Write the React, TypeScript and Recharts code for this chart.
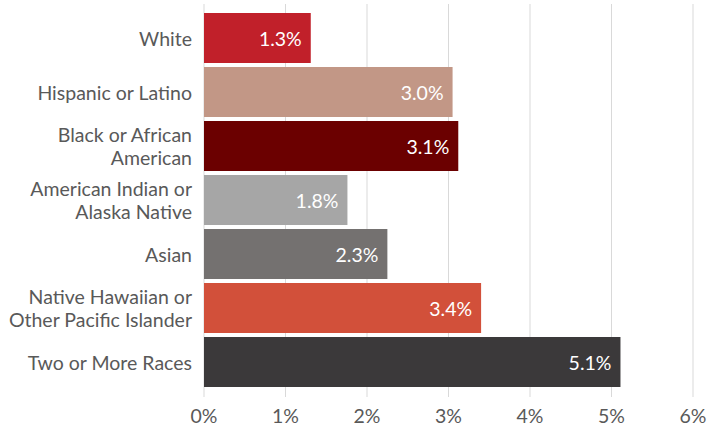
import React from "react";
import { BarChart, Bar, XAxis, YAxis, CartesianGrid, Cell, LabelList } from "recharts";

const categories = [
  "White",
  "Hispanic or Latino",
  "Black or African\nAmerican",
  "American Indian or\nAlaska Native",
  "Asian",
  "Native Hawaiian or\nOther Pacific Islander",
  "Two or More Races",
];
const values = [1.31, 3.05, 3.12, 1.76, 2.25, 3.4, 5.11];
const valueLabels = ["1.3%", "3.0%", "3.1%", "1.8%", "2.3%", "3.4%", "5.1%"];
const colors = ["#C1202A", "#C29786", "#6B0000", "#A6A6A6", "#747170", "#D2503A", "#3B393A"];
const xTicks = [0, 1, 2, 3, 4, 5, 6];

const data = categories.map((name, i) => ({ name, value: values[i], label: valueLabels[i] }));

const FONT = "Lato, 'Noto Sans', sans-serif";
const TEXT = "#595959";
const FS = 19.5;

const YTick = (props: any) => {
  const { x, y, payload } = props;
  const lines = String(payload.value).split("\n");
  const lh = 23;
  const start = -((lines.length - 1) * lh) / 2;
  return (
    <g>
      {lines.map((l: string, i: number) => (
        <text
          key={i}
          x={x}
          y={y + start + i * lh}
          textAnchor="end"
          dominantBaseline="central"
          fill={TEXT}
          fontSize={FS}
          fontFamily={FONT}
        >
          {l}
        </text>
      ))}
    </g>
  );
};

const XTick = (props: any) => {
  const { x, y, payload } = props;
  return (
    <text x={x} y={y + 10} textAnchor="middle" dominantBaseline="central" fill={TEXT} fontSize={FS} fontFamily={FONT}>
      {payload.value}%
    </text>
  );
};

const ValueLabel = (props: any) => {
  const { x, y, width, height, value } = props;
  return (
    <text
      x={x + width - 9}
      y={y + height / 2}
      textAnchor="end"
      dominantBaseline="central"
      fill="#ffffff"
      fontSize={FS}
      fontFamily={FONT}
    >
      {value}
    </text>
  );
};

export default function App() {
  return (
    <div style={{ position: "absolute", left: 0, top: 0 }}>
      <BarChart
        width={708}
        height={429}
        data={data}
        layout="vertical"
        margin={{ top: 4, right: 15, bottom: 0, left: 0 }}
        barCategoryGap={2}
      >
        <CartesianGrid horizontal={false} stroke="#d9d9d9" strokeWidth={1} />
        <XAxis
          type="number"
          domain={[0, 6]}
          ticks={xTicks}
          axisLine={false}
          tickLine={false}
          height={32}
          tick={<XTick />}
          interval={0}
        />
        <YAxis
          type="category"
          dataKey="name"
          width={204}
          axisLine={false}
          tickLine={false}
          tick={<YTick />}
          tickMargin={6}
          interval={0}
          padding={{ top: 7, bottom: 8 }}
        />
        <Bar dataKey="value" isAnimationActive={false}>
          {data.map((d, i) => (
            <Cell key={i} fill={colors[i]} />
          ))}
          <LabelList dataKey="label" content={<ValueLabel />} />
        </Bar>
      </BarChart>
    </div>
  );
}
